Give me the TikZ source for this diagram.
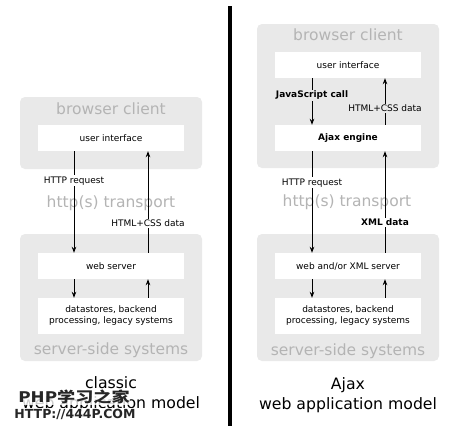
\documentclass[tikz,border=0pt]{standalone}
\usepackage{fontspec}
\setmainfont{DejaVu Sans}
\newfontfamily\cjk{Noto Sans CJK SC}
\usepackage{tikz}
\usetikzlibrary{arrows.meta}

\definecolor{zonegray}{HTML}{E9E9E9}
\definecolor{titlegray}{HTML}{B4B4B4}

\tikzset{
  zone/.style={fill=zonegray, rounded corners=5pt, minimum width=182pt, inner sep=0pt},
  layer/.style={fill=white, minimum width=146pt, minimum height=26pt, inner sep=0pt, font=\fontsize{9}{11}\selectfont, align=center},
  zonetitle/.style={text=titlegray, font=\fontsize{15.5}{18}\selectfont},
  flow/.style={-{Stealth[length=6pt,width=4.5pt]}, line width=0.8pt},
  tag/.style={font=\fontsize{9}{11}\selectfont, inner sep=1pt},
  caption/.style={font=\fontsize{15.7}{20}\selectfont, align=center},
  watermark/.style={text=black!85, fill=white, fill opacity=0.8, text opacity=1, inner sep=0.5pt}
}

\begin{document}
\begin{tikzpicture}[x=1pt, y=-1pt]
    \fill[white] (0,0) rectangle (450,431);
    \useasboundingbox (0,0) rectangle (450,431);

    % classic model
    \node[zone, minimum height=72pt] (lclient) at (111,133) {};
    \node[zone, minimum height=127pt] (lserver) at (111,297.5) {};
    \node[zonetitle] (lclienttitle) at (111,109) {browser client};
    \node[zonetitle] (ltransport) at (111,203) {http(s) transport};
    \node[zonetitle] (lservertitle) at (111,350) {server-side systems};
    \node[layer] (lui) at (111,138) {user interface};
    \node[layer] (lweb) at (111,266) {web server};
    \node[layer, minimum height=36pt] (lstore) at (111,316) {datastores, backend\\processing, legacy systems};

    \draw[flow] ([xshift=-37pt]lui.south) -- node[tag, fill=white, pos=0.29] {HTTP request} ([xshift=-37pt]lweb.north);
    \draw[flow] ([xshift=37pt]lweb.north) -- node[tag, fill=white, pos=0.29] {HTML+CSS data} ([xshift=37pt]lui.south);
    \draw[flow] ([xshift=-37pt]lweb.south) -- ([xshift=-37pt]lstore.north);
    \draw[flow] ([xshift=37pt]lstore.north) -- ([xshift=37pt]lweb.south);

    \node[caption] (lcaption) at (111,394) {classic\\web application model};

    % divider
    \draw[line width=4pt] (229.5,6) -- (229.5,426);

    % Ajax model
    \node[zone, minimum height=144pt] (rclient) at (348,96) {};
    \node[zone, minimum height=127pt] (rserver) at (348,297.5) {};
    \node[zonetitle] (rclienttitle) at (348,35) {browser client};
    \node[zonetitle] (rtransport) at (347,202) {http(s) transport};
    \node[zonetitle] (rservertitle) at (348,351) {server-side systems};
    \node[layer] (rui) at (348,65) {user interface};
    \node[layer, font=\fontsize{9}{11}\selectfont\bfseries] (rengine) at (348,138) {Ajax engine};
    \node[layer] (rweb) at (348,266) {web and/or XML server};
    \node[layer, minimum height=36pt] (rstore) at (348,316) {datastores, backend\\processing, legacy systems};

    \draw[flow] ([xshift=-36pt]rui.south) -- node[tag, fill=zonegray, font=\fontsize{9}{11}\selectfont\bfseries, pos=0.37] {JavaScript call} ([xshift=-36pt]rengine.north);
    \draw[flow] ([xshift=37pt]rengine.north) -- node[tag, fill=zonegray, pos=0.35] {HTML+CSS data} ([xshift=37pt]rui.south);
    \draw[flow] ([xshift=-36pt]rengine.south) -- node[tag, fill=white, pos=0.31] {HTTP request} ([xshift=-36pt]rweb.north);
    \draw[flow] ([xshift=37pt]rweb.north) -- node[tag, fill=white, font=\fontsize{9}{11}\selectfont\bfseries, pos=0.3] {XML data} ([xshift=37pt]rengine.south);
    \draw[flow] ([xshift=-36pt]rweb.south) -- ([xshift=-36pt]rstore.north);
    \draw[flow] ([xshift=37pt]rstore.north) -- ([xshift=37pt]rweb.south);

    \node[caption] (rcaption) at (348,395) {Ajax\\web application model};

    % watermark
    \node[watermark, font=\cjk\bfseries\fontsize{14.5}{15}\selectfont, xscale=1.25] (mark) at (74,397) {PHP学习之家};
    \node[watermark, font=\bfseries\fontsize{12.5}{14}\selectfont] (markurl) at (75,414) {HTTP://444P.COM};
\end{tikzpicture}
\end{document}
